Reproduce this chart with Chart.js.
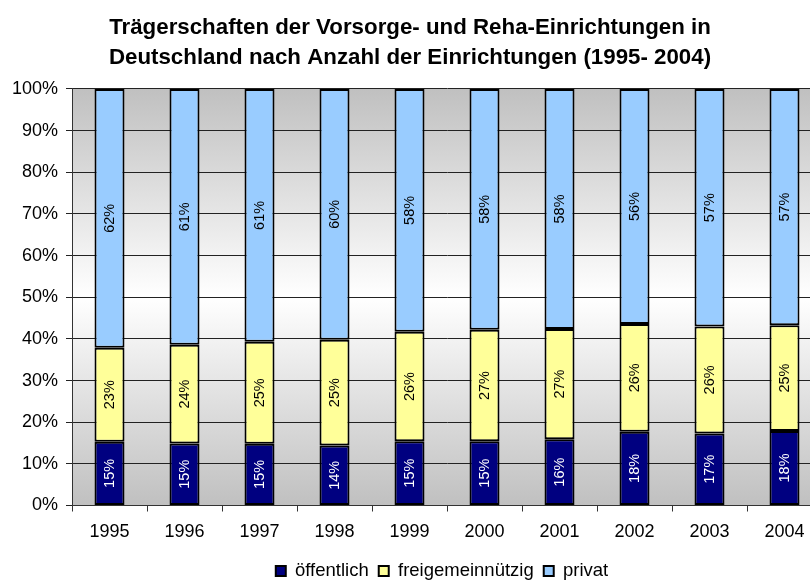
<!DOCTYPE html>
<html>
<head>
<meta charset="utf-8">
<script src="https://cdn.jsdelivr.net/npm/chart.js@4.4.1/dist/chart.umd.min.js"></script>
<style>
  html, body { margin: 0; padding: 0; overflow: hidden; background: #fff; }
  #wrap { width: 850px; height: 581px; }
</style>
</head>
<body>
<div id="wrap"><canvas id="myChart"></canvas></div>
<script>
const years = ["1995", "1996", "1997", "1998", "1999", "2000", "2001", "2002", "2003", "2004"]
const oeffentlich = [15.3, 14.9, 14.8, 14.4, 15.4, 15.4, 15.9, 17.7, 17.3, 17.9]
const freigemeinnuetzig = [22.6, 23.7, 24.5, 25.4, 26.3, 26.8, 26.5, 25.9, 25.7, 25.4]
const privat = [62.1, 61.4, 60.7, 60.2, 58.3, 57.8, 57.6, 56.4, 57.0, 56.7]
const seriesNames = ["öffentlich", "freigemeinnützig", "privat"]
const titleLines = ["Trägerschaften der Vorsorge- und Reha-Einrichtungen in", "Deutschland nach Anzahl der Einrichtungen (1995- 2004)"]

const font = '"Liberation Sans", Arial, sans-serif'
const legendFont = 18.5
const legendPad = 10

// grey -> white -> grey behind the bars, like the old excel plot area
const plotBackground = {
  id: 'plotBackground',
  beforeDraw(chart) {
    const {ctx, chartArea} = chart
    ctx.save()
    ctx.fillStyle = '#fff'
    ctx.fillRect(0, 0, chart.width, chart.height)
    const g = ctx.createLinearGradient(0, chartArea.top, 0, chartArea.bottom)
    g.addColorStop(0, '#c0c0c0')
    g.addColorStop(0.5, '#ffffff')
    g.addColorStop(1, '#c0c0c0')
    ctx.fillStyle = g
    ctx.fillRect(chartArea.left, chartArea.top, chartArea.right - chartArea.left, chartArea.bottom - chartArea.top)
    ctx.restore()
  }
}

// rotated percent labels in the middle of each segment
const barLabels = {
  id: 'barLabels',
  afterDatasetsDraw(chart) {
    const ctx = chart.ctx
    const colors = ['#fff', '#000', '#000']
    chart.data.datasets.forEach((ds, i) => {
      chart.getDatasetMeta(i).data.forEach((bar, j) => {
        ctx.save()
        ctx.translate(bar.x, (bar.y + bar.base) / 2)
        ctx.rotate(-Math.PI / 2)
        ctx.fillStyle = colors[i]
        ctx.font = '14.5px ' + font
        ctx.textAlign = 'center'
        ctx.textBaseline = 'middle'
        ctx.fillText(Math.round(ds.data[j]) + '%', 0, 0)
        ctx.restore()
      })
    })
  }
}

// title and legend are not centred on the canvas in the original
const boxShift = {
  id: 'boxShift',
  afterLayout(chart) {
    const t = chart.titleBlock
    t.left -= 6
    t.right -= 6
    const l = chart.legend
    l.left += 26
    l.right += 26
    const h = l.bottom - l.top
    l.top = 571 - legendPad - legendFont / 2
    l.bottom = l.top + h
  }
}

const ctx = document.getElementById('myChart')
new Chart(ctx, {
  type: 'bar',
  data: {
    labels: years,
    datasets: [
      {label: seriesNames[0], data: oeffentlich, backgroundColor: '#000080'},
      {label: seriesNames[1], data: freigemeinnuetzig, backgroundColor: '#ffff99'},
      {label: seriesNames[2], data: privat, backgroundColor: '#99ccff'}
    ]
  },
  options: {
    responsive: true,
    maintainAspectRatio: false,
    animation: false,
    datasets: {
      bar: {
        borderColor: '#000',
        borderWidth: 2,
        borderSkipped: false,
        barPercentage: 0.4,
        categoryPercentage: 1
      }
    },
    layout: {padding: {left: 10, right: 28, top: 0, bottom: -1}},
    scales: {
      x: {
        stacked: true,
        afterFit: s => { s.height = 38 },
        grid: {drawOnChartArea: false, drawTicks: true, tickLength: 6, color: '#333'},
        border: {color: '#333', width: 1},
        ticks: {color: '#000', font: {family: font, size: 18}, padding: 10}
      },
      y: {
        stacked: true,
        min: 0,
        max: 100,
        afterFit: s => { s.width = 62 },
        grid: {color: '#222', lineWidth: 1, tickLength: 6},
        border: {color: '#333', width: 1},
        ticks: {
          stepSize: 10,
          color: '#000',
          font: {family: font, size: 18},
          padding: 8,
          callback: v => v + '%'
        }
      }
    },
    plugins: {
      title: {
        display: true,
        text: titleLines,
        color: '#000',
        font: {family: font, size: 22.3, weight: 'bold', lineHeight: 1.345},
        padding: {top: 13, bottom: 16}
      },
      legend: {
        position: 'bottom',
        labels: {
          color: '#000',
          font: {family: font, size: legendFont},
          boxWidth: 10,
          boxHeight: 10,
          padding: legendPad
        }
      },
      tooltip: {enabled: false}
    }
  },
  plugins: [plotBackground, barLabels, boxShift]
})
</script>
</body>
</html>
